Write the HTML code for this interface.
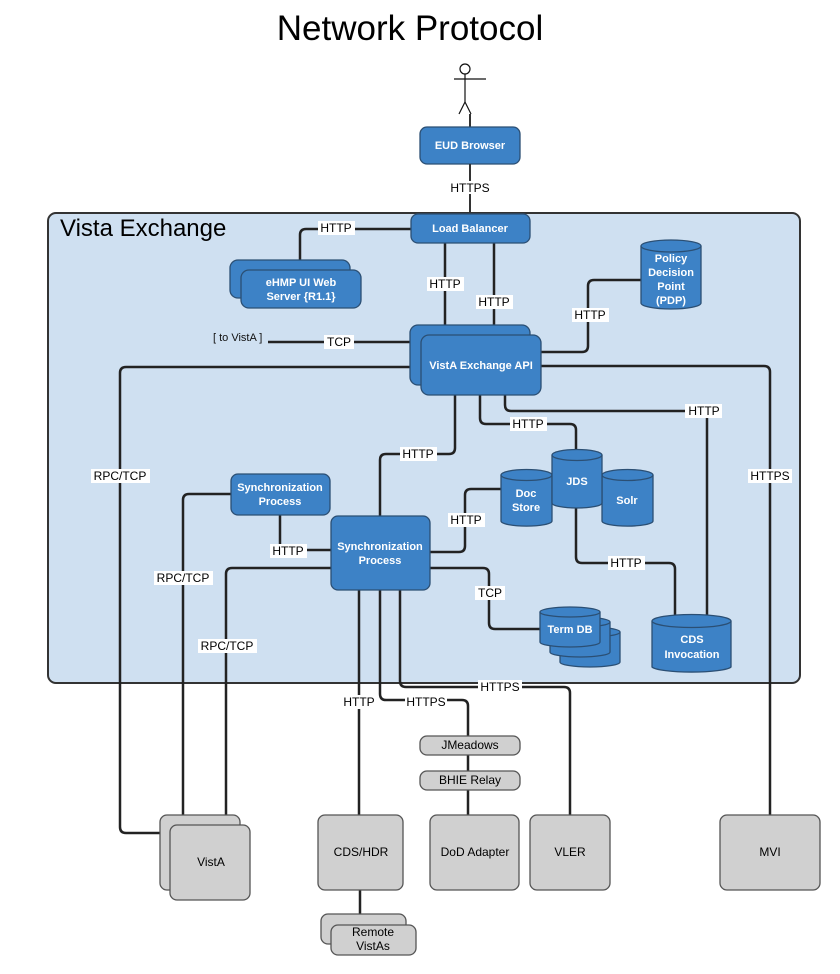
<!DOCTYPE html>
<html><head><meta charset="utf-8"><style>
html,body{margin:0;padding:0;background:#fff;}
svg{display:block;font-family:"Liberation Sans",Arial,sans-serif;}
.b{fill:#3d82c6;stroke:#2b4f74;stroke-width:1.3;}
.g{fill:#d0d0d0;stroke:#555;stroke-width:1.3;}
.w{fill:#fff;font-size:11px;font-weight:bold;text-anchor:middle;}
.k{fill:#111;font-size:12px;text-anchor:middle;}
.l{fill:none;stroke:#222;stroke-width:2.5;stroke-linejoin:round;}
.lb{fill:#fff;}
.t{fill:#000;font-size:12px;text-anchor:middle;}
</style></head><body>
<svg width="840" height="974" viewBox="0 0 840 974">
<text x="410" y="40" font-size="35" text-anchor="middle" fill="#000">Network Protocol</text>
<g stroke="#111" stroke-width="1.2" fill="none">
<circle cx="465" cy="69" r="5" fill="#fff"/>
<line x1="465" y1="74" x2="465" y2="102"/>
<line x1="454" y1="79" x2="486" y2="79"/>
<line x1="465" y1="102" x2="459" y2="114"/>
<line x1="465" y1="102" x2="471" y2="114"/>
</g>
<line x1="470" y1="114" x2="470" y2="127" stroke="#333" stroke-width="2"/>
<rect class="b" x="420" y="127" width="100" height="37" rx="7"/>
<text class="w" x="470" y="149">EUD Browser</text>
<line x1="470" y1="164" x2="470" y2="214" stroke="#333" stroke-width="2"/>
<rect class="lb" x="451" y="181" width="38" height="13"/><text class="t" x="470" y="192" font-size="11">HTTPS</text>
<rect x="48" y="213" width="752" height="470" rx="8" fill="#cfe0f1" stroke="#333" stroke-width="2"/>
<text x="60" y="236" font-size="24" fill="#000">Vista Exchange</text>

<path class="l" d="M411 229 H306 Q300 229 300 235 V270"/>
<path class="l" d="M445 243 V325"/>
<path class="l" d="M494 243 V325"/>
<path class="l" d="M541 352 H582 Q588 352 588 346 V286 Q588 280 594 280 H641"/>
<path class="l" d="M268 342 H410"/>
<path class="l" d="M410 367 H126 Q120 367 120 373 V827 Q120 833 126 833 H160"/>
<path class="l" d="M541 366 H764 Q770 366 770 372 V815"/>
<path class="l" d="M455 395 V448 Q455 454 449 454 H386 Q380 454 380 460 V516"/>
<path class="l" d="M480 395 V418 Q480 424 486 424 H570 Q576 424 576 430 V449"/>
<path class="l" d="M505 395 V405 Q505 411 511 411 H701 Q707 411 707 417 V617"/>
<path class="l" d="M231 494 H189 Q183 494 183 500 V815"/>
<path class="l" d="M280 515 V550 H331"/>
<path class="l" d="M331 568 H232 Q226 568 226 574 V825"/>
<path class="l" d="M430 552 H459 Q465 552 465 546 V495 Q465 489 471 489 H501"/>
<path class="l" d="M430 568 H483 Q489 568 489 574 V623 Q489 629 495 629 H540"/>
<path class="l" d="M576 508 V557 Q576 563 582 563 H669 Q675 563 675 569 V617"/>
<path class="l" d="M359 590 V815"/>
<path class="l" d="M380 590 V694 Q380 700 386 700 H462 Q468 700 468 706 V815"/>
<path class="l" d="M400 590 V681 Q400 687 406 687 H564 Q570 687 570 693 V815"/>
<path class="l" d="M360 890 V914"/>

<rect class="b" x="411" y="214" width="119" height="29" rx="7"/>
<text class="w" x="470" y="232">Load Balancer</text>

<rect class="b" x="230" y="260" width="120" height="38" rx="8"/>
<rect class="b" x="241" y="270" width="120" height="38" rx="8"/>
<text class="w" x="301" y="286" font-size="12">eHMP UI Web</text>
<text class="w" x="301" y="300" font-size="12">Server {R1.1}</text>

<rect class="b" x="410" y="325" width="120" height="60" rx="8"/>
<rect class="b" x="421" y="335" width="120" height="60" rx="8"/>
<text class="w" x="481" y="369" font-size="12">VistA Exchange API</text>

<path class="b" d="M641 246 V303 A30 6 0 0 0 701 303 V246"/>
<ellipse class="b" cx="671" cy="246" rx="30" ry="6"/>
<text class="w" x="671" y="262">Policy</text>
<text class="w" x="671" y="276">Decision</text>
<text class="w" x="671" y="290">Point</text>
<text class="w" x="671" y="304">(PDP)</text>

<text x="213" y="341" font-size="11" fill="#111">[ to VistA ]</text>

<rect class="b" x="231" y="474" width="99" height="41" rx="7"/>
<text class="w" x="280" y="491">Synchronization</text>
<text class="w" x="280" y="505">Process</text>

<rect class="b" x="331" y="516" width="99" height="74" rx="7"/>
<text class="w" x="380" y="550">Synchronization</text>
<text class="w" x="380" y="564">Process</text>

<path class="b" d="M501 475 V521 A25 5 0 0 0 552 521 V475"/>
<ellipse class="b" cx="526.5" cy="475" rx="25.5" ry="5.5"/>
<text class="w" x="526" y="497">Doc</text><text class="w" x="526" y="511">Store</text>
<path class="b" d="M602 475 V521 A25 5 0 0 0 653 521 V475"/>
<ellipse class="b" cx="627.5" cy="475" rx="25.5" ry="5.5"/>
<text class="w" x="627" y="504">Solr</text>
<path class="b" d="M552 455 V503 A25 5 0 0 0 602 503 V455"/>
<ellipse class="b" cx="577" cy="455" rx="25" ry="5.5"/>
<text class="w" x="577" y="485" font-size="12">JDS</text>

<path class="b" d="M560 632 V662 A30 5 0 0 0 620 662 V632"/><ellipse class="b" cx="590" cy="632" rx="30" ry="5"/>
<path class="b" d="M550 622 V652 A30 5 0 0 0 610 652 V622"/><ellipse class="b" cx="580" cy="622" rx="30" ry="5"/>
<path class="b" d="M540 612 V642 A30 5 0 0 0 600 642 V612"/><ellipse class="b" cx="570" cy="612" rx="30" ry="5"/>
<text class="w" x="570" y="633">Term DB</text>

<path class="b" d="M652 621 V667 A40 6 0 0 0 731 667 V621"/>
<ellipse class="b" cx="691.5" cy="621" rx="39.5" ry="6.5"/>
<text class="w" x="692" y="643">CDS</text><text class="w" x="692" y="658">Invocation</text>

<g>
<rect class="lb" x="318" y="221" width="37" height="14"/><text class="t" x="336" y="232">HTTP</text>
<rect class="lb" x="427" y="277" width="37" height="14"/><text class="t" x="445" y="288">HTTP</text>
<rect class="lb" x="476" y="295" width="37" height="14"/><text class="t" x="494" y="306">HTTP</text>
<rect class="lb" x="572" y="308" width="37" height="14"/><text class="t" x="590" y="319">HTTP</text>
<rect class="lb" x="324" y="335" width="30" height="14"/><text class="t" x="339" y="346">TCP</text>
<rect class="lb" x="91" y="469" width="59" height="14"/><text class="t" x="120" y="480">RPC/TCP</text>
<rect class="lb" x="748" y="469" width="44" height="14"/><text class="t" x="770" y="480">HTTPS</text>
<rect class="lb" x="400" y="447" width="37" height="14"/><text class="t" x="418" y="458">HTTP</text>
<rect class="lb" x="510" y="417" width="37" height="14"/><text class="t" x="528" y="428">HTTP</text>
<rect class="lb" x="685" y="404" width="37" height="14"/><text class="t" x="704" y="415">HTTP</text>
<rect class="lb" x="154" y="571" width="59" height="14"/><text class="t" x="183" y="582">RPC/TCP</text>
<rect class="lb" x="270" y="544" width="37" height="14"/><text class="t" x="288" y="555">HTTP</text>
<rect class="lb" x="198" y="639" width="59" height="14"/><text class="t" x="227" y="650">RPC/TCP</text>
<rect class="lb" x="448" y="513" width="37" height="14"/><text class="t" x="466" y="524">HTTP</text>
<rect class="lb" x="475" y="586" width="30" height="14"/><text class="t" x="490" y="597">TCP</text>
<rect class="lb" x="608" y="556" width="37" height="14"/><text class="t" x="626" y="567">HTTP</text>
<rect class="lb" x="342" y="695" width="35" height="14"/><text class="t" x="359" y="706" font-size="11">HTTP</text>
<rect class="lb" x="405" y="695" width="42" height="14"/><text class="t" x="426" y="706" font-size="11">HTTPS</text>
<rect class="lb" x="478" y="680" width="44" height="14"/><text class="t" x="500" y="691">HTTPS</text>
</g>

<rect class="g" x="420" y="736" width="100" height="19" rx="7"/>
<text class="t" x="470" y="749" font-size="11">JMeadows</text>
<rect class="g" x="420" y="771" width="100" height="19" rx="7"/>
<text class="t" x="470" y="784" font-size="11">BHIE Relay</text>

<rect class="g" x="160" y="815" width="80" height="75" rx="7"/>
<rect class="g" x="170" y="825" width="80" height="75" rx="7"/>
<text class="t" x="211" y="866">VistA</text>

<rect class="g" x="318" y="815" width="85" height="75" rx="7"/>
<text class="t" x="361" y="856">CDS/HDR</text>
<rect class="g" x="430" y="815" width="89" height="75" rx="7"/>
<text class="t" x="475" y="856">DoD Adapter</text>
<rect class="g" x="530" y="815" width="80" height="75" rx="7"/>
<text class="t" x="570" y="856">VLER</text>
<rect class="g" x="720" y="815" width="100" height="75" rx="7"/>
<text class="t" x="770" y="856">MVI</text>

<rect class="g" x="321" y="914" width="85" height="30" rx="7"/>
<rect class="g" x="331" y="925" width="85" height="30" rx="7"/>
<text class="t" x="373" y="936">Remote</text>
<text class="t" x="373" y="950">VistAs</text>
</svg>
</body></html>
